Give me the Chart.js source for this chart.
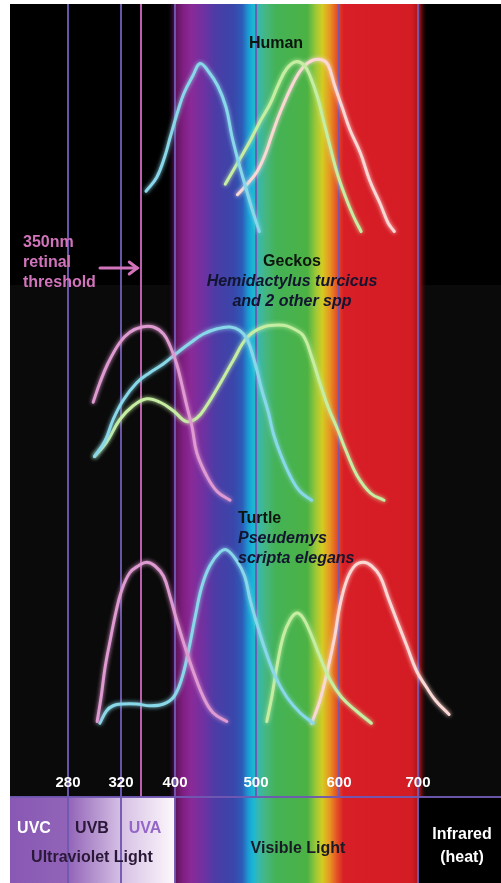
<!DOCTYPE html>
<html>
<head>
<meta charset="utf-8">
<script src="https://cdn.jsdelivr.net/npm/chart.js@4.4.1/dist/chart.umd.min.js"></script>
<style>
  html, body { margin: 0; padding: 0; background: #fff; }
  #wrap { width: 501px; height: 883px; }
</style>
</head>
<body>
<div id="wrap"><canvas id="chart" width="501" height="883"></canvas></div>
<script>
// wavelength (nm) grid lines and labels
const gridNm = [280, 320, 350, 400, 500, 600, 700];
const tickNm = [280, 320, 400, 500, 600, 700];
const tickLabels = ['280', '320', '400', '500', '600', '700'];
const bandEdgeNm = [280, 320, 400, 700];

// Human cones (relative sensitivity)
const humanSNm  = [357, 373, 385, 393, 403, 411, 422, 431, 442, 453, 463, 470, 477, 485, 495, 504];
const humanSVal = [0.25, 0.33, 0.45, 0.56, 0.70, 0.81, 0.91, 0.98, 0.93, 0.85, 0.73, 0.57, 0.44, 0.31, 0.15, 0.02];
const humanMNm  = [462, 477, 493, 505, 517, 527, 537, 548, 558, 565, 574, 581, 589, 598, 608, 618, 628];
const humanMVal = [0.29, 0.41, 0.54, 0.65, 0.75, 0.86, 0.95, 0.99, 0.97, 0.91, 0.79, 0.66, 0.51, 0.35, 0.22, 0.11, 0.02];
const humanLNm  = [477, 489, 501, 511, 519, 529, 545, 557, 569, 580, 587, 595, 604, 614, 627, 639, 652, 662, 670];
const humanLVal = [0.23, 0.29, 0.36, 0.46, 0.57, 0.70, 0.87, 0.96, 1.00, 1.00, 0.97, 0.85, 0.73, 0.60, 0.47, 0.31, 0.18, 0.07, 0.02];

// Geckos
const geckoUVNm  = [299, 304, 310, 319, 333, 351, 368, 383, 393, 402, 408, 414, 421, 427, 439, 452, 468];
const geckoUVVal = [0.57, 0.68, 0.79, 0.91, 0.97, 1.00, 1.00, 0.96, 0.89, 0.79, 0.68, 0.56, 0.43, 0.28, 0.15, 0.06, 0.01];
const geckoSNm   = [300, 308, 314, 323, 343, 363, 383, 402, 419, 435, 452, 468, 480, 489, 499, 507, 515, 521, 529, 541, 553, 567];
const geckoSVal  = [0.26, 0.35, 0.47, 0.58, 0.68, 0.74, 0.79, 0.85, 0.91, 0.96, 0.99, 1.00, 0.98, 0.93, 0.79, 0.64, 0.51, 0.39, 0.28, 0.15, 0.06, 0.01];
const geckoMNm   = [300, 309, 319, 338, 358, 378, 398, 414, 427, 439, 456, 472, 489, 509, 533, 545, 557, 567, 577, 587, 597, 610, 623, 640, 657];
const geckoMVal  = [0.26, 0.34, 0.47, 0.55, 0.59, 0.57, 0.52, 0.46, 0.48, 0.55, 0.68, 0.81, 0.94, 1.00, 1.01, 0.99, 0.95, 0.83, 0.68, 0.54, 0.43, 0.28, 0.15, 0.05, 0.01];

// Turtle
const turtleUVNm  = [302, 305, 308, 312, 316, 321, 333, 346, 358, 370, 383, 393, 402, 412, 423, 435, 447, 464];
const turtleUVVal = [0.02, 0.16, 0.33, 0.49, 0.64, 0.77, 0.87, 0.91, 0.93, 0.91, 0.85, 0.73, 0.60, 0.45, 0.30, 0.16, 0.07, 0.02];
const turtleSNm   = [304, 309, 314, 323, 343, 363, 383, 398, 408, 416, 425, 433, 443, 456, 464, 476, 486, 493, 501, 511, 523, 537, 553, 569];
const turtleSVal  = [0.01, 0.08, 0.11, 0.12, 0.12, 0.11, 0.12, 0.16, 0.26, 0.41, 0.62, 0.79, 0.91, 0.99, 1.00, 0.94, 0.85, 0.71, 0.58, 0.43, 0.28, 0.16, 0.07, 0.01];
const turtleMNm   = [513, 519, 525, 533, 541, 549, 557, 567, 577, 589, 603, 622, 641];
const turtleMVal  = [0.02, 0.16, 0.33, 0.51, 0.60, 0.64, 0.61, 0.51, 0.39, 0.26, 0.16, 0.08, 0.01];
const turtleLNm   = [567, 577, 587, 595, 601, 610, 620, 631, 641, 652, 662, 673, 686, 698, 710, 722, 739];
const turtleLVal  = [0.01, 0.14, 0.33, 0.51, 0.68, 0.83, 0.91, 0.93, 0.91, 0.85, 0.73, 0.60, 0.45, 0.31, 0.22, 0.14, 0.06];

const FONT = "'Liberation Sans', Arial, Helvetica, sans-serif";
const CYAN = '#88d8ea', GREEN = '#c6eea2', PINK = '#e09ad2', SALMON = '#fcd8d4';
const LINE_PURPLE = 'rgba(112, 88, 178, 0.95)', LINE_PINK = '#bb5eac';

// schematic wavelength axis: UV stretched, visible linear-ish
const axisNm   = [236, 280, 320, 400, 500, 600, 700, 804];
const axisFrac = [0, 58, 111, 165, 246, 329, 408, 491].map(p => p / 491);

function nmToFrac(v) {
  if (v <= axisNm[0]) return axisFrac[0];
  for (let i = 1; i < axisNm.length; i++) {
    if (v <= axisNm[i]) {
      const t = (v - axisNm[i - 1]) / (axisNm[i] - axisNm[i - 1]);
      return axisFrac[i - 1] + t * (axisFrac[i] - axisFrac[i - 1]);
    }
  }
  return 1;
}
function fracToNm(f) {
  for (let i = 1; i < axisFrac.length; i++) {
    if (f <= axisFrac[i]) {
      const t = (f - axisFrac[i - 1]) / (axisFrac[i] - axisFrac[i - 1]);
      return axisNm[i - 1] + t * (axisNm[i] - axisNm[i - 1]);
    }
  }
  return axisNm[axisNm.length - 1];
}

class WavelengthScale extends Chart.LinearScale {
  getPixelForValue(v) { return this.getPixelForDecimal(nmToFrac(v)); }
  getValueForPixel(p) { return fracToNm(this.getDecimalForPixel(p)); }
}
WavelengthScale.id = 'wavelength';
WavelengthScale.defaults = Chart.LinearScale.defaults;
Chart.register(WavelengthScale);

// three panels share the plot; each y axis puts its 0..1 band at its own height
const areaTop = 4, areaBottom = 883, unitPx = 175;
function panelRange(basePx) {
  return { min: -(areaBottom - basePx) / unitPx, max: (basePx - areaTop) / unitPx };
}

const spectrumStops = [
  [388, 'rgba(0,0,0,0)'], [396, '#2a0828'], [402, '#621660'], [410, '#801e82'], [420, '#8a2a98'], [437, '#6c32a2'],
  [450, '#4c3ca6'], [472, '#3a46aa'], [483, '#2c5cb8'], [490, '#1c98d2'], [496, '#18b6d8'],
  [503, '#38b8ac'], [512, '#46b680'], [524, '#44b256'], [562, '#4cb244'], [572, '#9cc838'],
  [580, '#d4cc22'], [589, '#e89422'], [597, '#e45424'], [606, '#d81e26'], [692, '#d41c24'],
  [702, '#a01418'], [712, 'rgba(0,0,0,0)']
];

function zip(xs, ys) { return xs.map((x, i) => ({ x, y: ys[i] })); }

function curve(label, nm, val, color, axis) {
  return {
    label, data: zip(nm, val), yAxisID: axis,
    borderColor: color, borderWidth: 3, pointRadius: 0,
    tension: 0.4, borderCapStyle: 'round', borderJoinStyle: 'round'
  };
}

function spectrumFill(chart, y0, y1) {
  const { ctx } = chart;
  const x = chart.scales.x;
  const x0 = x.getPixelForValue(spectrumStops[0][0]);
  const x1 = x.getPixelForValue(spectrumStops[spectrumStops.length - 1][0]);
  const g = ctx.createLinearGradient(x0, 0, x1, 0);
  spectrumStops.forEach(([nm, c]) => g.addColorStop((x.getPixelForValue(nm) - x0) / (x1 - x0), c));
  ctx.fillStyle = g;
  ctx.fillRect(x0, y0, x1 - x0, y1 - y0);
}

const backdrop = {
  id: 'backdrop',
  beforeDraw(chart) {
    const { ctx, chartArea: a } = chart;
    ctx.save();
    ctx.fillStyle = '#000';
    ctx.fillRect(a.left, a.top, a.right - a.left, 285 - a.top);
    ctx.fillStyle = '#0a0a0a';
    ctx.fillRect(a.left, 285, a.right - a.left, a.bottom - 285);
    spectrumFill(chart, a.top, a.bottom);
    ctx.restore();
  },
  beforeDatasetsDraw(chart) {
    // bottom band: UV boxes, visible, infrared
    const { ctx, chartArea: a } = chart;
    const x = chart.scales.x;
    const top = 797;
    const u0 = a.left, u1 = x.getPixelForValue(400);
    ctx.save();
    ctx.fillStyle = '#000';
    ctx.fillRect(a.left, top, a.right - a.left, a.bottom - top);
    spectrumFill(chart, top, a.bottom);
    const g = ctx.createLinearGradient(u0, 0, u1, 0);
    g.addColorStop(0, '#8858b4');
    g.addColorStop((x.getPixelForValue(280) - u0) / (u1 - u0), '#9264b8');
    g.addColorStop((x.getPixelForValue(320) - u0) / (u1 - u0), '#d6c0e4');
    g.addColorStop(1, '#fdf8fc');
    ctx.fillStyle = g;
    ctx.fillRect(u0, top, u1 - u0, a.bottom - top);
    const ir = x.getPixelForValue(700);
    ctx.fillStyle = '#000';
    ctx.fillRect(ir, top, a.right - ir, a.bottom - top);
    ctx.strokeStyle = LINE_PURPLE;
    ctx.lineWidth = 2;
    bandEdgeNm.forEach(nm => {
      const px = Math.round(x.getPixelForValue(nm));
      ctx.beginPath(); ctx.moveTo(px, top); ctx.lineTo(px, a.bottom); ctx.stroke();
    });
    ctx.beginPath(); ctx.moveTo(a.left, top); ctx.lineTo(a.right, top); ctx.stroke();
    ctx.restore();
  },
  beforeDatasetDraw(chart, args) {
    const ctx = chart.ctx;
    ctx.save();
    ctx.shadowColor = args.meta.dataset.options.borderColor;
    ctx.shadowBlur = 4;
  },
  afterDatasetDraw(chart) { chart.ctx.restore(); },
  afterDraw(chart) {
    const { ctx } = chart;
    const x = chart.scales.x;
    ctx.save();
    ctx.textBaseline = 'middle';
    // wavelength labels
    ctx.font = `bold 15px ${FONT}`;
    ctx.fillStyle = '#fff';
    ctx.textAlign = 'center';
    tickNm.forEach((nm, i) => ctx.fillText(tickLabels[i], x.getPixelForValue(nm), 783));

    // band texts
    ctx.font = `bold 16px ${FONT}`;
    ctx.fillStyle = '#fff'; ctx.fillText('UVC', 34, 829);
    ctx.fillStyle = '#2a1838'; ctx.fillText('UVB', 92, 829);
    ctx.fillStyle = '#9466c8'; ctx.fillText('UVA', 145, 829);
    ctx.fillStyle = '#2a1838'; ctx.fillText('Ultraviolet Light', 92, 858);
    ctx.fillStyle = '#1a1a26'; ctx.fillText('Visible Light', 298, 849);
    ctx.fillStyle = '#fff';
    ctx.fillText('Infrared', 462, 835);
    ctx.fillText('(heat)', 462, 858);

    // panel titles
    ctx.fillStyle = '#0c160e';
    ctx.fillText('Human', 276, 44);
    ctx.fillText('Geckos', 292, 262);
    ctx.fillStyle = '#121430';
    ctx.font = `italic bold 16px ${FONT}`;
    ctx.fillText('Hemidactylus turcicus', 292, 282);
    ctx.fillText('and 2 other spp', 292, 302);
    ctx.textAlign = 'left';
    ctx.font = `bold 16px ${FONT}`;
    ctx.fillStyle = '#0c160e';
    ctx.fillText('Turtle', 238, 519);
    ctx.fillStyle = '#121430';
    ctx.font = `italic bold 16px ${FONT}`;
    ctx.fillText('Pseudemys', 238, 539);
    ctx.fillText('scripta elegans', 238, 559);

    // retinal threshold note
    ctx.fillStyle = '#d274bc';
    ctx.font = `bold 16px ${FONT}`;
    ctx.fillText('350nm', 23, 243);
    ctx.fillText('retinal', 23, 263);
    ctx.fillText('threshold', 23, 283);
    const tip = x.getPixelForValue(350) - 4;
    ctx.strokeStyle = '#d274bc';
    ctx.lineWidth = 3;
    ctx.lineCap = 'round';
    ctx.beginPath(); ctx.moveTo(100, 268); ctx.lineTo(tip, 268); ctx.stroke();
    ctx.beginPath(); ctx.moveTo(tip - 8, 262); ctx.lineTo(tip, 268); ctx.lineTo(tip - 8, 274); ctx.stroke();
    ctx.restore();
  }
};

new Chart(document.getElementById('chart'), {
  type: 'line',
  data: {
    datasets: [
      curve('Human S', humanSNm, humanSVal, CYAN, 'yH'),
      curve('Human M', humanMNm, humanMVal, GREEN, 'yH'),
      curve('Human L', humanLNm, humanLVal, SALMON, 'yH'),
      curve('Gecko UV', geckoUVNm, geckoUVVal, PINK, 'yG'),
      curve('Gecko S', geckoSNm, geckoSVal, CYAN, 'yG'),
      curve('Gecko M', geckoMNm, geckoMVal, GREEN, 'yG'),
      curve('Turtle UV', turtleUVNm, turtleUVVal, PINK, 'yT'),
      curve('Turtle S', turtleSNm, turtleSVal, CYAN, 'yT'),
      curve('Turtle M', turtleMNm, turtleMVal, GREEN, 'yT'),
      curve('Turtle L', turtleLNm, turtleLVal, SALMON, 'yT')
    ]
  },
  options: {
    responsive: false,
    animation: false,
    layout: { padding: { left: 10, top: areaTop, right: 0, bottom: 0 } },
    plugins: { legend: { display: false }, tooltip: { enabled: false } },
    events: [],
    scales: {
      x: {
        type: 'wavelength',
        min: axisNm[0],
        max: axisNm[axisNm.length - 1],
        afterBuildTicks: s => { s.ticks = gridNm.map(v => ({ value: v })); },
        ticks: { display: false },
        grid: {
          drawTicks: false,
          lineWidth: 2,
          color: c => (c.tick && c.tick.value === 350 ? LINE_PINK : LINE_PURPLE)
        },
        border: { display: false }
      },
      yH: { type: 'linear', display: false, ...panelRange(235) },
      yG: { type: 'linear', display: false, ...panelRange(502) },
      yT: { type: 'linear', display: false, ...panelRange(725) }
    }
  },
  plugins: [backdrop]
});
</script>
</body>
</html>
